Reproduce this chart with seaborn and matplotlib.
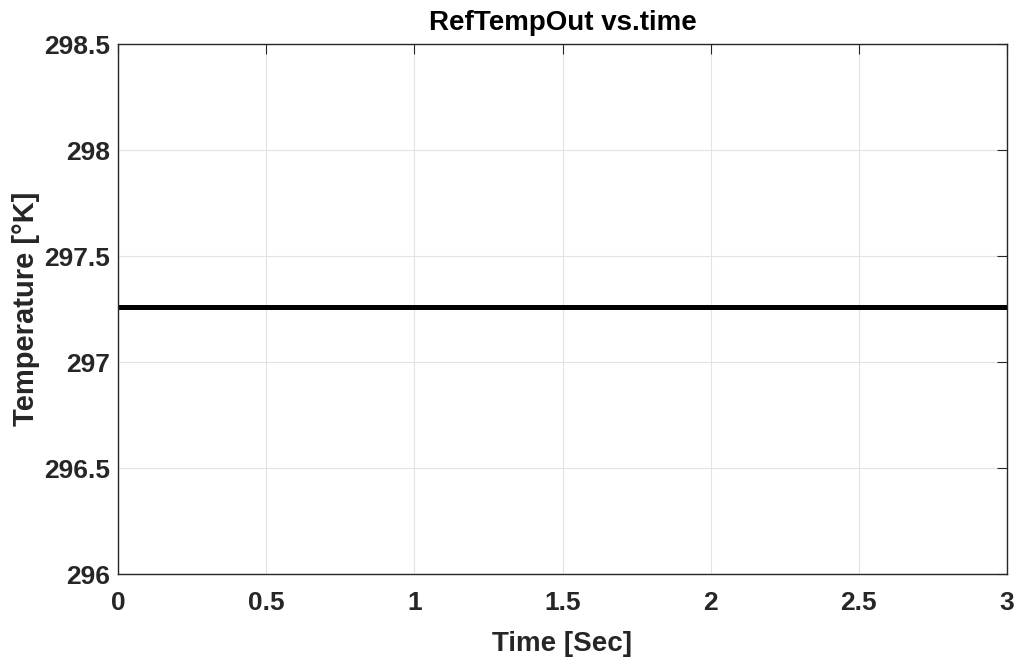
import matplotlib
matplotlib.use("Agg")
import matplotlib.pyplot as plt
import seaborn as sns
import pandas as pd

time = [0.0, 0.3, 0.6, 0.9, 1.2, 1.5, 1.8, 2.1, 2.4, 2.7, 3.0]
temp = [297.26, 297.26, 297.26, 297.26, 297.26, 297.26, 297.26, 297.26, 297.26, 297.26, 297.26]
xticks = [0, 0.5, 1, 1.5, 2, 2.5, 3]
xticklabels = ["0", "0.5", "1", "1.5", "2", "2.5", "3"]
yticks = [296, 296.5, 297, 297.5, 298, 298.5]
yticklabels = ["296", "296.5", "297", "297.5", "298", "298.5"]

sns.set_theme(style="white")
plt.rcParams['font.family'] = ['Liberation Sans', 'DejaVu Sans']
plt.rcParams['font.weight'] = 'bold'

df = pd.DataFrame({"time": time, "temp": temp})
fig = plt.figure(figsize=(10.18, 6.6), dpi=100)
ax = fig.add_axes([118/1018, 1-574/660, (1007-118)/1018, (574-44)/660])
sns.lineplot(data=df, x="time", y="temp", ax=ax, color="black", linewidth=3.6)

ax.set_xlim(0, 3)
ax.set_ylim(296, 298.5)
ax.set_xticks(xticks)
ax.set_xticklabels(xticklabels)
ax.set_yticks(yticks)
ax.set_yticklabels(yticklabels)
ax.grid(True, color="#e3e3e3", linewidth=0.8)
ax.tick_params(direction="in", length=7, width=0.8, top=True, right=True,
               labelsize=19, colors="#262626")
ax.tick_params(axis="x", pad=12)
ax.tick_params(axis="y", pad=5.5)
for lab in ax.get_xticklabels() + ax.get_yticklabels():
    lab.set_fontweight("bold")
for s in ax.spines.values():
    s.set_color("#262626")
    s.set_linewidth(1.0)
ax.set_xlabel("Time [Sec]", fontsize=20, fontweight="bold", color="#262626", labelpad=12)
ax.set_ylabel("Temperature [°K]", fontsize=21, fontweight="bold", color="#262626", labelpad=3)
ax.set_title("RefTempOut vs.time", fontsize=20, fontweight="bold", color="black", pad=10)

fig.savefig("out.png", dpi=100)
